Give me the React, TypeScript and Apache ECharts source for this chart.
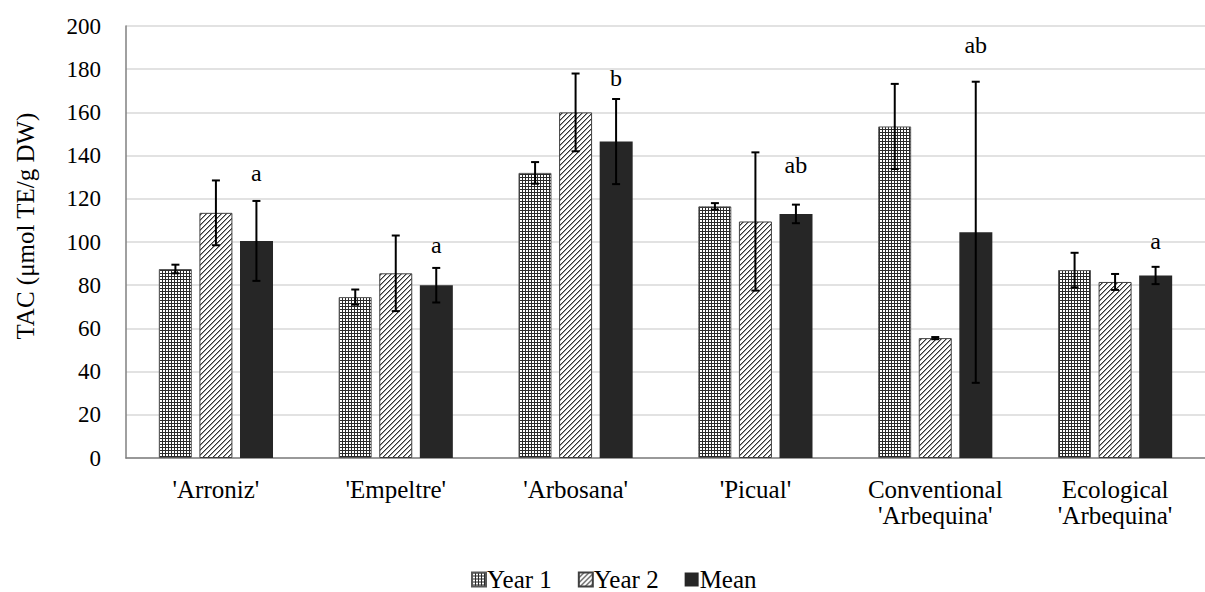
import React, { useEffect, useRef } from "react";
import * as echarts from "echarts";

const categories = ["'Arroniz'", "'Empeltre'", "'Arbosana'", "'Picual'", "Conventional\n'Arbequina'", "Ecological\n'Arbequina'"];
const seriesNames = ["Year 1", "Year 2", "Mean"];
const year1 = [87.5, 74.5, 132, 116.5, 153.5, 87];
const year1Err = [2, 3.5, 5, 1.5, 19.7, 8];
const year2 = [113.5, 85.5, 160, 109.5, 55.5, 81.5];
const year2Err = [15, 17.5, 18, 32, 0.5, 3.7];
const mean = [100.5, 80, 146.5, 113, 104.5, 84.5];
const meanErr = [18.5, 8, 19.7, 4.3, 69.7, 4];
const letters = ["a", "a", "b", "ab", "ab", "a"];
const letterY = [132, 98.5, 176, 135.5, 191, 100.5];
const yTicks = { min: 0, max: 200, interval: 20 };
const yTitle = "TAC (μmol TE/g DW)";

const FONT = "'Liberation Serif', 'Times New Roman', serif";
const BAR_W = 33;
const STEP = 40.5;

function makeTile(size: number, fn: (x: number, y: number) => string | null, bg: string) {
  const c = document.createElement("canvas");
  c.width = size;
  c.height = size;
  const ctx = c.getContext("2d")!;
  ctx.fillStyle = bg;
  ctx.fillRect(0, 0, size, size);
  for (let x = 0; x < size; x++) {
    for (let y = 0; y < size; y++) {
      const col = fn(x, y);
      if (col) {
        ctx.fillStyle = col;
        ctx.fillRect(x, y, 1, 1);
      }
    }
  }
  return c;
}

export default function App() {
  const ref = useRef<HTMLDivElement>(null);
  useEffect(() => {
    if (!ref.current) return;
    const chart = echarts.init(ref.current, undefined, { renderer: "svg" });

    const pat1 = makeTile(3, (x, y) => (x === 0 || y === 0 ? "#2a2a2a" : null), "#ffffff");
    const pat2 = makeTile(5, (x, y) => {
      const s = (x + y) % 5;
      if (s === 4) return "#333333";
      if (s === 0) return "#9a9a9a";
      return null;
    }, "#ffffff");

    const values = [year1, year2, mean];
    const errs = [year1Err, year2Err, meanErr];
    const colors: any[] = [
      { image: pat1, repeat: "repeat" },
      { image: pat2, repeat: "repeat" },
      "#262626",
    ];
    const borders = ["#595959", "#404040", "#262626"];

    const barSeries = seriesNames.map((name, i) => ({
      name,
      type: "bar",
      data: values[i],
      barWidth: BAR_W,
      barGap: "23%",
      itemStyle: { color: colors[i], borderColor: borders[i], borderWidth: i < 2 ? 1 : 0 },
      z: 2,
    }));

    const errSeries = seriesNames.map((name, i) => ({
      type: "custom",
      name: name + " err",
      z: 5,
      silent: true,
      data: values[i].map((v, k) => [k, v - errs[i][k], v + errs[i][k]]),
      encode: { x: 0, y: [1, 2] },
      renderItem: (params: any, api: any) => {
        const idx = api.value(0);
        const lo = api.coord([idx, api.value(1)]);
        const hi = api.coord([idx, api.value(2)]);
        const x = lo[0] + (i - 1) * STEP;
        const cap = 4;
        const st = { stroke: "#000", lineWidth: 2 };
        return {
          type: "group",
          children: [
            { type: "line", shape: { x1: x, y1: lo[1], x2: x, y2: hi[1] }, style: st },
            { type: "line", shape: { x1: x - cap, y1: lo[1], x2: x + cap, y2: lo[1] }, style: st },
            { type: "line", shape: { x1: x - cap, y1: hi[1], x2: x + cap, y2: hi[1] }, style: st },
          ],
        };
      },
    }));

    const letterSeries = {
      type: "custom",
      name: "letters",
      z: 6,
      silent: true,
      data: letters.map((l, k) => [k, letterY[k]]),
      encode: { x: 0, y: 1 },
      renderItem: (params: any, api: any) => {
        const idx = api.value(0);
        const p = api.coord([idx, api.value(1)]);
        return {
          type: "text",
          x: p[0] + STEP,
          y: p[1],
          style: {
            text: letters[params.dataIndex],
            font: `24px ${FONT}`,
            fill: "#000",
            align: "center",
            verticalAlign: "middle",
          },
        };
      },
    };

    chart.setOption({
      animation: false,
      backgroundColor: "#fff",
      textStyle: { fontFamily: FONT },
      grid: { left: 126, top: 26, bottom: 134, right: -12, containLabel: false },
      graphic: [
        {
          type: "text",
          x: 25,
          y: 226,
          rotation: Math.PI / 2,
          style: {
            text: yTitle,
            font: `25px ${FONT}`,
            fill: "#000",
            align: "center",
            verticalAlign: "middle",
          },
        },
      ],
      legend: {
        data: seriesNames,
        top: 567,
        left: 471,
        padding: 0,
        icon: "rect",
        itemWidth: 14,
        itemHeight: 14,
        itemGap: 26,
        textStyle: { fontFamily: FONT, fontSize: 25, lineHeight: 25, color: "#000", padding: [0, 0, 0, -4] },
      },
      xAxis: {
        type: "category",
        data: categories,
        axisLine: { lineStyle: { color: "#808080", width: 1.5 } },
        axisTick: { show: false },
        axisLabel: { fontFamily: FONT, fontSize: 25, color: "#000", margin: 18, lineHeight: 26, interval: 0 },
      },
      yAxis: {
        type: "value",
        min: yTicks.min,
        max: yTicks.max,
        interval: yTicks.interval,
        axisLine: { show: true, lineStyle: { color: "#808080", width: 1.5 } },
        axisTick: { show: false },
        splitLine: { lineStyle: { color: "#d9d9d9", width: 1.5 } },
        axisLabel: { fontFamily: FONT, fontSize: 23, color: "#000", margin: 25 },
      },
      series: [...barSeries, ...errSeries, letterSeries],
    });

    return () => chart.dispose();
  }, []);

  return <div ref={ref} style={{ position: "fixed", left: 0, top: 0, width: 1205, height: 592 }} />;
}
